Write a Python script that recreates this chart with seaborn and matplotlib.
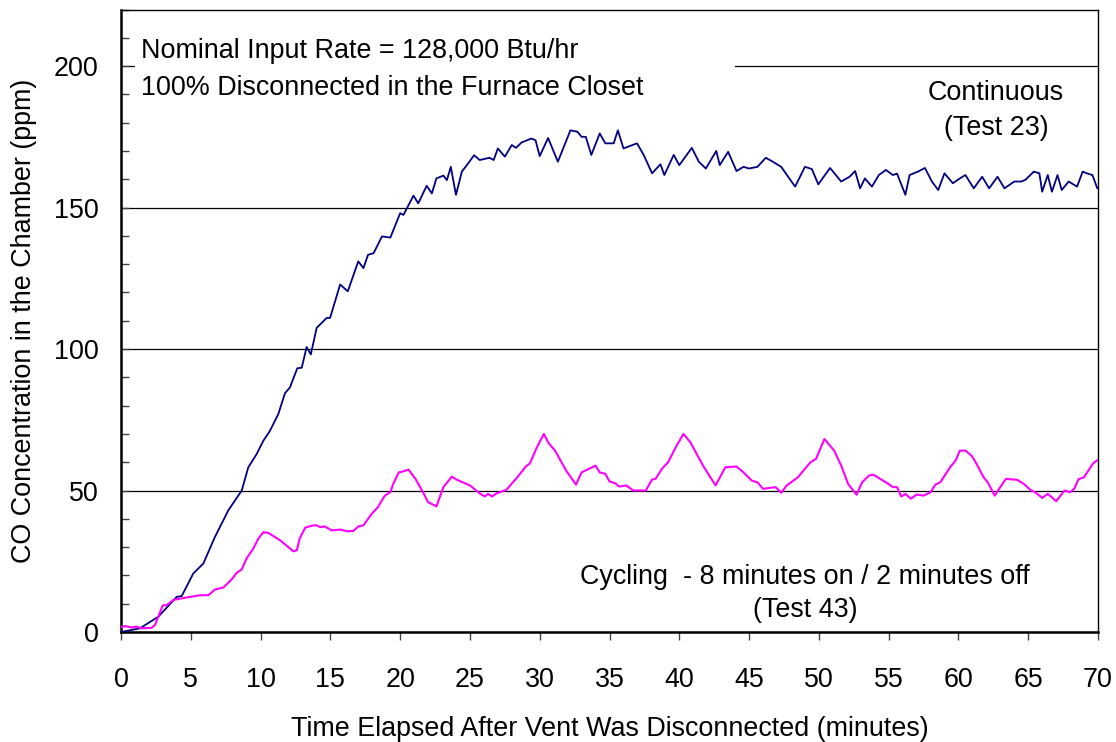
import matplotlib
matplotlib.use("Agg")
import matplotlib.pyplot as plt
from matplotlib.patches import Rectangle
from matplotlib.ticker import MultipleLocator
import seaborn as sns
import pandas as pd

# Continuous (Test 23)
cont_t = [0, 1.36, 2.67, 3.99, 4.35, 5.18, 5.9, 6.73, 7.69, 8.65, 9.12, 9.72, 10.2, 10.67,
          11.27, 11.75, 12.1, 12.63, 12.95, 13.3, 13.6, 14.02, 14.74, 14.98, 15.7, 16.25,
          17.0, 17.37, 17.7, 18.1, 18.7, 19.3, 20.0, 20.24, 20.95, 21.3, 21.9, 22.27, 22.6,
          23.1, 23.35, 23.63, 24.0, 24.42, 24.78, 25.3, 25.7, 26.4, 26.7, 27.0, 27.5, 28.0,
          28.3, 28.7, 29.4, 29.7, 30.0, 30.6, 31.3, 32.2, 32.7, 33.0, 33.3, 33.7, 34.3, 34.7,
          35.3, 35.6, 36.0, 36.97, 37.45, 38.05, 38.65, 38.93, 39.6, 40.0, 40.9, 41.4, 41.9,
          42.65, 42.9, 43.5, 44.1, 44.6, 45.0, 45.6, 46.2, 46.7, 47.3, 48.3, 49.0, 49.5,
          49.96, 50.8, 51.6, 52.2, 52.6, 52.95, 53.3, 53.8, 54.3, 54.8, 55.3, 55.6, 56.2,
          56.5, 57.1, 57.6, 58.1, 58.55, 59.0, 59.6, 60.1, 60.5, 61.1, 61.7, 62.2, 62.8,
          63.3, 64.0, 64.5, 64.8, 65.4, 65.8, 66.0, 66.4, 66.7, 67.1, 67.4, 67.9, 68.5,
          68.9, 69.2, 69.6, 69.95]
cont_ppm = [0, 1.3, 5.4, 12.4, 12.7, 20.7, 24.2, 33.6, 43.0, 50.0, 58.2, 62.9, 67.6, 71.1,
            77.0, 84.4, 86.4, 93.2, 93.4, 100.7, 98.1, 107.5, 111.0, 111.0, 122.8, 120.4,
            131.0, 128.6, 133.3, 133.9, 139.8, 139.4, 148.0, 147.4, 154.2, 151.5, 157.7, 155.0,
            160.3, 161.3, 159.7, 164.4, 154.5, 162.7, 165.0, 168.5, 166.8, 167.6, 166.8, 170.9,
            168.0, 172.1, 171.1, 173.0, 174.4, 173.8, 168.2, 174.6, 166.2, 177.3, 176.8, 175.0,
            175.0, 168.6, 176.2, 172.7, 172.7, 177.3, 170.9, 172.7, 168.6, 162.1, 165.3, 161.5,
            168.6, 165.0, 171.1, 166.2, 163.8, 170.0, 165.0, 169.7, 162.9, 164.4, 163.8, 164.4,
            167.6, 166.2, 164.4, 157.4, 164.4, 163.6, 158.2, 164.0, 159.2, 160.9, 162.9, 156.8,
            160.3, 157.4, 161.5, 163.3, 161.5, 162.0, 154.5, 161.5, 162.7, 164.0, 159.2, 156.2,
            162.1, 158.6, 160.3, 161.5, 156.8, 160.9, 156.8, 160.9, 156.8, 159.2, 159.2, 159.8,
            162.7, 162.1, 155.6, 161.5, 155.6, 161.5, 156.2, 159.2, 157.4, 162.7, 162.1, 161.5,
            156.8]

# Cycling (Test 43)
cyc_t = [0, 0.29, 0.77, 1.1, 1.48, 2.2, 2.44, 2.99, 3.27, 3.75, 4.35, 4.94, 5.66, 6.26, 6.73,
         7.33, 7.93, 8.29, 8.65, 9.0, 9.48, 9.84, 10.2, 10.56, 11.4, 12.35, 12.6, 12.8, 13.2,
         13.78, 14.0, 14.26, 14.6, 15.1, 15.7, 16.2, 16.65, 17.0, 17.37, 17.97, 18.4, 18.9,
         19.3, 19.5, 19.9, 20.24, 20.6, 21.1, 21.7, 22.0, 22.6, 23.1, 23.7, 24.07, 25.0, 25.7,
         26.07, 26.3, 26.6, 26.9, 27.6, 28.4, 29.0, 29.3, 29.8, 30.3, 30.6, 31.1, 31.9, 32.6,
         33.0, 33.5, 34.0, 34.3, 34.7, 35.0, 35.4, 35.7, 36.2, 36.7, 37.6, 38.05, 38.3, 38.75,
         39.2, 39.8, 40.3, 40.8, 41.7, 42.6, 43.3, 44.1, 44.6, 45.2, 45.6, 46.0, 46.9, 47.3,
         47.7, 48.5, 49.4, 49.8, 50.4, 51.1, 51.6, 52.1, 52.7, 53.1, 53.6, 53.9, 54.4, 55.0,
         55.3, 55.6, 55.9, 56.2, 56.6, 57.0, 57.5, 58.0, 58.35, 58.7, 59.4, 59.8, 60.1, 60.5,
         60.95, 61.3, 61.8, 62.1, 62.6, 63.0, 63.4, 64.2, 64.7, 65.2, 65.5, 66.0, 66.4, 66.7,
         67.0, 67.6, 68.0, 68.3, 68.6, 69.0, 69.65, 70.0]
cyc_ppm = [1.6, 2.1, 1.6, 1.9, 1.3, 1.5, 2.5, 9.4, 9.5, 11.3, 11.9, 12.4, 13.0, 13.0, 15.0,
           15.7, 18.6, 20.9, 22.1, 26.0, 29.5, 33.0, 35.3, 35.0, 32.4, 28.5, 28.9, 33.0, 36.9,
           37.7, 37.7, 37.1, 37.3, 35.9, 36.2, 35.6, 35.7, 37.3, 37.7, 41.8, 44.1, 48.2,
           49.4, 52.3, 56.4, 56.8, 57.4, 54.1, 48.8, 45.9, 44.4, 51.2, 54.9, 53.8, 51.8, 49.0,
           47.9, 48.8, 47.9, 49.0, 50.2, 54.7, 58.5, 59.6, 65.3, 70.0, 67.0, 64.1, 57.0, 52.1,
           56.4, 57.6, 58.8, 56.4, 55.9, 53.2, 52.6, 51.4, 51.8, 50.0, 50.0, 53.9, 54.1, 57.6,
           60.0, 65.8, 70.0, 67.0, 58.8, 51.8, 58.2, 58.5, 56.4, 53.5, 52.9, 50.6, 51.2, 49.2,
           51.8, 54.7, 60.0, 61.2, 68.2, 64.1, 58.8, 52.3, 48.5, 52.9, 55.3, 55.6, 54.1, 52.3,
           51.2, 51.2, 47.9, 48.8, 47.1, 48.6, 48.2, 49.4, 52.1, 52.9, 58.2, 60.6, 64.1, 64.1,
           62.3, 59.4, 54.7, 52.9, 48.2, 51.2, 54.1, 53.8, 52.3, 50.0, 49.4, 47.4, 48.8, 47.6,
           46.2, 50.0, 49.4, 50.6, 54.0, 54.7, 59.6, 60.9]

x_ticks = list(range(0, 71, 5))
y_ticks = [0, 50, 100, 150, 200]

sns.set_theme(style="white")
plt.rcParams['font.family'] = ['Liberation Sans', 'DejaVu Sans']
plt.rcParams['text.color'] = 'black'
plt.rcParams['axes.labelcolor'] = 'black'
plt.rcParams['xtick.color'] = 'black'
plt.rcParams['ytick.color'] = 'black'
FS = 19.4

fig = plt.figure(figsize=(11.16, 7.42), dpi=100)
ax = fig.add_axes([121 / 1116, 1 - 632 / 742, (1098 - 121) / 1116, (632 - 9.5) / 742])

df_c = pd.DataFrame({"t": cont_t, "ppm": cont_ppm})
df_y = pd.DataFrame({"t": cyc_t, "ppm": cyc_ppm})
sns.lineplot(data=df_c, x="t", y="ppm", ax=ax, color="#000080", linewidth=1.3,
             estimator=None, sort=False, zorder=3)
sns.lineplot(data=df_y, x="t", y="ppm", ax=ax, color="#FF00FF", linewidth=1.5,
             estimator=None, sort=False, zorder=3)

ax.set_xlim(0, 70)
ax.set_ylim(0, 220)
ax.set_xticks(x_ticks)
ax.set_yticks(y_ticks)
ax.yaxis.set_minor_locator(MultipleLocator(10))
ax.tick_params(axis="x", which="major", direction="out", length=6, width=1,
               color="#444444", labelcolor="black", labelsize=FS, pad=19, bottom=True)
ax.tick_params(axis="y", which="both", direction="in", length=5.5, width=1,
               color="#444444", labelcolor="black", labelsize=FS, pad=16, left=True)
ax.tick_params(axis="y", which="minor", left=True)

ax.set_axisbelow(True)
ax.yaxis.grid(True, which="major", color="black", linewidth=0.9, zorder=0.5)
ax.xaxis.grid(False)

for side in ["left", "bottom"]:
    ax.spines[side].set_linewidth(1.8)
    ax.spines[side].set_color("black")
for side in ["top", "right"]:
    ax.spines[side].set_linewidth(1.0)
    ax.spines[side].set_color("black")
    ax.spines[side].set_visible(True)

# white text box hiding the 200 grid line
ax.add_patch(Rectangle((1.0, 185), 43.0, 30, facecolor="white", edgecolor="none", zorder=1))

ax.set_xlabel("Time Elapsed After Vent Was Disconnected (minutes)", fontsize=FS, labelpad=17, color="black")
ax.set_ylabel("CO Concentration in the Chamber (ppm)", fontsize=FS, labelpad=12, color="black")

kw = dict(fontsize=FS, va="center", zorder=4, color="black")
ax.text(1.43, 205.3, "Nominal Input Rate = 128,000 Btu/hr", ha="left", **kw)
ax.text(1.43, 192.3, "100% Disconnected in the Furnace Closet", ha="left", **kw)
ax.text(62.7, 190.5, "Continuous", ha="center", **kw)
ax.text(62.7, 178.1, "(Test 23)", ha="center", **kw)
ax.text(49.0, 19.4, "Cycling  - 8 minutes on / 2 minutes off", ha="center", **kw)
ax.text(49.0, 7.8, "(Test 43)", ha="center", **kw)

fig.savefig("out.png", dpi=100)
